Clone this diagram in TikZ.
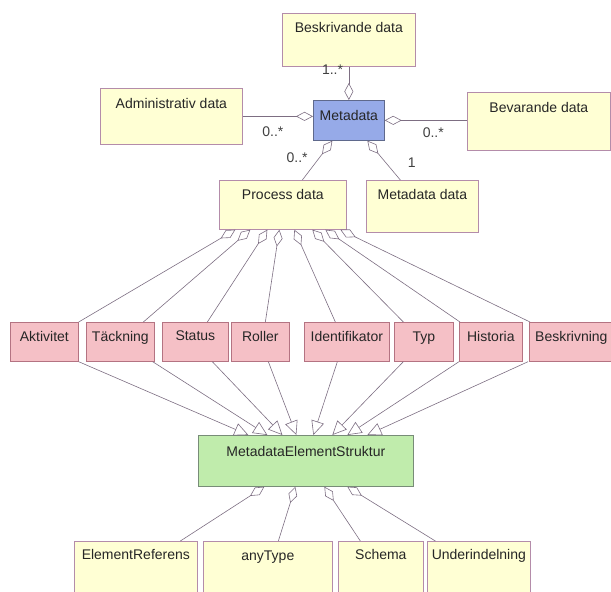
\documentclass[tikz,border=0pt]{standalone}
\usepackage{fontspec}
\setmainfont{Liberation Sans}
\usetikzlibrary{arrows.meta}

\definecolor{yellowfill}{RGB}{255,255,212}
\definecolor{yellowline}{RGB}{180,140,170}
\definecolor{pinkfill}{RGB}{245,192,198}
\definecolor{pinkline}{RGB}{180,115,130}
\definecolor{bluefill}{RGB}{150,170,232}
\definecolor{blueline}{RGB}{95,105,140}
\definecolor{greenfill}{RGB}{192,236,172}
\definecolor{greenline}{RGB}{120,140,120}
\definecolor{linkcol}{RGB}{125,110,130}

\tikzset{
    classbox/.style={draw, line width=0.7pt, inner sep=0pt, anchor=north west, text=black!85},
    databox/.style={classbox, draw=yellowline, fill=yellowfill},
    metabox/.style={classbox, draw=blueline, fill=bluefill},
    elembox/.style={classbox, draw=pinkline, fill=pinkfill, text height=19pt, text depth=20pt},
    strukbox/.style={classbox, draw=greenline, fill=greenfill},
    agg/.style={draw=linkcol, line width=0.6pt, {Diamond[open,length=17pt,width=9pt]}-},
    gen/.style={draw=linkcol, line width=0.6pt, -{Triangle[open,length=14pt,width=13pt]}},
    mult/.style={text=black!75, inner sep=0pt}
}

\begin{document}
\begin{tikzpicture}[x=1pt, y=-1pt, font=\fontsize{14}{17}\selectfont]
    \path[use as bounding box, clip] (0,0) rectangle (611,592);

    \node[databox, minimum width=133pt, text height=19pt, text depth=34pt] (besk) at (282,13) {Beskrivande data};
    \node[databox, minimum width=142pt, text height=20pt, text depth=36pt] (admin) at (100,88) {Administrativ data};
    \node[metabox, minimum width=71pt, text height=20pt, text depth=20pt] (meta) at (313,100) {Metadata};
    \node[databox, minimum width=143pt, text height=20pt, text depth=38pt] (bevar) at (467,92) {Bevarande data};
    \node[databox, minimum width=127pt, text height=19pt, text depth=30pt] (proc) at (219,180) {Process data};
    \node[databox, minimum width=112pt, text height=19pt, text depth=33pt] (mdd) at (366,180) {Metadata data};

    \draw[agg] (meta) -- (besk) node[mult, pos=0.91, left=5.5pt] {1..*};
    \draw[agg] (meta.west |- admin.east) -- (admin.east) node[mult, pos=0.57, below=10pt] {0..*};
    \draw[agg] (meta.east) -- (meta.east -| bevar.west) node[mult, pos=0.59, below=7.5pt] {0..*};
    \draw[agg] ([xshift=-16.5pt]meta.south) -- ([xshift=19.5pt]proc.north) node[mult, pos=0.43, left=11.5pt] {0..*};
    \draw[agg] ([xshift=18.5pt]meta.south) -- ([xshift=-22pt]mdd.north) node[mult, pos=0.55, right=22pt] {1};

    % element row
    \node[elembox, minimum width=68pt] (akt) at (10,322) {Aktivitet};
    \node[elembox, minimum width=68pt] (tack) at (86,322) {Täckning};
    \node[elembox, minimum width=66pt, text height=18pt, text depth=21pt] (stat) at (162,322) {Status};
    \node[elembox, minimum width=58pt] (roll) at (231,322) {Roller};
    \node[elembox, minimum width=85pt] (ident) at (304,322) {Identifikator};
    \node[elembox, minimum width=59pt] (typ) at (394,322) {Typ};
    \node[elembox, minimum width=63pt] (hist) at (459,322) {Historia};
    \node[elembox, minimum width=84pt] (beskr) at (529,322) {Beskrivning};

    \draw[agg] ([xshift=-47.5pt]proc.south) -- (akt.north east);
    \draw[agg] ([xshift=-32.5pt]proc.south) -- ([xshift=23pt]tack.north);
    \draw[agg] ([xshift=-15.5pt]proc.south) -- ([xshift=12pt]stat.north);
    \draw[agg] ([xshift=-3.5pt]proc.south) -- ([xshift=5pt]roll.north);
    \draw[agg] ([xshift=11.5pt]proc.south) -- ([xshift=-11.5pt]ident.north);
    \draw[agg] ([xshift=29.5pt]proc.south) -- ([xshift=-20.5pt]typ.north);
    \draw[agg] ([xshift=42.5pt]proc.south) -- ([xshift=1pt]hist.north west);
    \draw[agg] ([xshift=57.5pt]proc.south) -- ([xshift=1pt]beskr.north west);

    \node[strukbox, minimum width=215pt, text height=21pt, text depth=30pt] (mes) at (198,435) {MetadataElementStruktur};

    \draw[gen] (akt.south east) -- ([xshift=-57.5pt]mes.north);
    \draw[gen] ([xshift=-2pt]tack.south east) -- ([xshift=-38.5pt]mes.north);
    \draw[gen] ([xshift=17pt]stat.south) -- ([xshift=-23.5pt]mes.north);
    \draw[gen] ([xshift=8pt]roll.south) -- ([xshift=-9.5pt]mes.north);
    \draw[gen] ([xshift=-9.5pt]ident.south) -- ([xshift=7.5pt]mes.north);
    \draw[gen] ([xshift=-20.5pt]typ.south) -- ([xshift=26.5pt]mes.north);
    \draw[gen] (hist.south west) -- ([xshift=41.5pt]mes.north);
    \draw[gen] ([xshift=-1pt]beskr.south west) -- ([xshift=61.5pt]mes.north);

    % parts of the element structure
    \node[databox, minimum width=123pt, text height=18pt, text depth=45pt] (elref) at (74,541) {ElementReferens};
    \node[databox, minimum width=129pt, text height=19pt, text depth=44pt] (any) at (203,541) {anyType};
    \node[databox, minimum width=85pt, text height=18pt, text depth=45pt] (schema) at (338,541) {Schema};
    \node[databox, minimum width=103pt, text height=18pt, text depth=45pt] (under) at (427,541) {Underindelning};

    \draw[agg] ([xshift=-41.5pt]mes.south) -- ([xshift=44.5pt]elref.north);
    \draw[agg] ([xshift=-10.5pt]mes.south) -- ([xshift=10.5pt]any.north);
    \draw[agg] ([xshift=18.5pt]mes.south) -- ([xshift=-20.5pt]schema.north);
    \draw[agg] ([xshift=41.5pt]mes.south) -- ([xshift=-43.5pt]under.north);

\end{tikzpicture}
\end{document}
